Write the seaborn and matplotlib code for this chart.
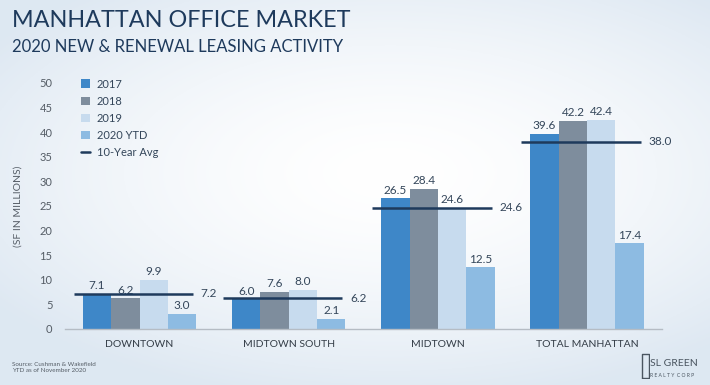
import seaborn as sns
import pandas as pd
import numpy as np
import matplotlib.pyplot as plt
from matplotlib.patches import Patch
from matplotlib.lines import Line2D

markets = ["DOWNTOWN", "MIDTOWN SOUTH", "MIDTOWN", "TOTAL MANHATTAN"]
years = ["2017", "2018", "2019", "2020 YTD"]
v2017 = [7.1, 6.0, 26.5, 39.6]
v2018 = [6.2, 7.6, 28.4, 42.2]
v2019 = [9.9, 8.0, 24.6, 42.4]
v2020 = [3.0, 2.1, 12.5, 17.4]
ten_year_avg = [7.2, 6.2, 24.6, 38.0]
yticks = [0, 5, 10, 15, 20, 25, 30, 35, 40, 45, 50]

colors = ["#3e87c8", "#7e8d9d", "#c7dbee", "#8dbbe2"]
navy = "#1e3a5c"
text_col = "#34465a"

sns.set_theme(style="white")
plt.rcParams['font.family'] = ['Lato', 'DejaVu Sans']

df = pd.DataFrame({
    "market": markets * 4,
    "year": np.repeat(years, 4),
    "value": v2017 + v2018 + v2019 + v2020,
})

fig = plt.figure(figsize=(7.1, 3.85), dpi=100)

# soft background gradient
bg = fig.add_axes([0, 0, 1, 1], zorder=-10)
yy, xx = np.mgrid[0:1:200j, 0:1:360j]
d = np.sqrt(((xx - 0.55) / 0.9) ** 2 + ((yy - 0.45) / 0.8) ** 2)
d = np.clip(d / 0.75, 0, 1) ** 1.6
c0 = np.array([1.0, 1.0, 1.0])
c1 = np.array([0.87, 0.91, 0.95])
img = c0[None, None, :] * (1 - d[..., None]) + c1[None, None, :] * d[..., None]
bg.imshow(img, aspect="auto", extent=[0, 1, 0, 1], origin="upper")
bg.axis("off")

ax = fig.add_axes([0.0915, 0.1455, 0.8405, 0.6395])
ax.patch.set_alpha(0)
sns.barplot(data=df, x="market", y="value", hue="year", order=markets,
            hue_order=years, palette=colors, width=0.76, gap=0,
            linewidth=0, saturation=1, legend=False, ax=ax)

for cont in ax.containers:
    ax.bar_label(cont, fmt="%.1f", padding=2, fontsize=8.5, color=text_col)

for i, avg in enumerate(ten_year_avg):
    ax.plot([i - 0.44, i + 0.36], [avg, avg], color=navy, lw=1.8,
            solid_capstyle="butt", zorder=5)
    ax.text(i + 0.41, avg, f"{avg:.1f}", va="center", ha="left",
            fontsize=8.5, color=text_col)

ax.set_ylim(0, 50)
ax.set_xlim(-0.5, 3.5)
ax.set_yticks(yticks)
ax.tick_params(axis="both", length=0, labelsize=8, colors="#555d66")
ax.tick_params(axis="y", pad=9)
ax.tick_params(axis="x", pad=8, labelsize=7.5, labelcolor="#333c46")
ax.set_xlabel("")
ax.set_ylabel("(SF IN MILLIONS)", fontsize=7.5, color="#555d66", labelpad=12)
for s in ["top", "right", "left"]:
    ax.spines[s].set_visible(False)
ax.spines["bottom"].set_color("#b5bcc4")
ax.spines["bottom"].set_linewidth(1)

handles = [Patch(facecolor=c, edgecolor="none") for c in colors]
handles.append(Line2D([0], [0], color=navy, lw=1.8))
leg = ax.legend(handles, years + ["10-Year Avg"], loc="upper left",
                bbox_to_anchor=(0.02, 1.035), frameon=False, fontsize=8,
                handlelength=0.8, handleheight=0.8, handletextpad=0.6,
                labelspacing=0.55, borderaxespad=0)
for t in leg.get_texts():
    t.set_color(text_col)

fig.text(0.017, 0.948, "MANHATTAN OFFICE MARKET", fontsize=16.8, color=navy,
         va="center", ha="left")
fig.text(0.017, 0.878, "2020 NEW & RENEWAL LEASING ACTIVITY", fontsize=12,
         color=navy, va="center", ha="left")

fig.text(0.017, 0.046, "Source: Cushman & Wakefield\nYTD as of November 2020",
         fontsize=4.5, color="#555d66", va="center", ha="left", linespacing=1.3)

fig.text(0.915, 0.057, "SL GREEN", fontsize=7.5, color="#4a5560",
         va="center", ha="left")
fig.text(0.916, 0.025, "R E A L T Y  C O R P", fontsize=3.6, color="#4a5560",
         va="center", ha="left")
ax_logo = fig.add_axes([0.903, 0.015, 0.012, 0.07])
ax_logo.axis("off")
ax_logo.plot([0.1, 0.1, 0.9, 0.9, 0.1], [0.05, 0.95, 0.95, 0.05, 0.05],
             color="#4a5560", lw=1)
ax_logo.set_xlim(0, 1)
ax_logo.set_ylim(0, 1)

fig.savefig("out.png", dpi=100)
